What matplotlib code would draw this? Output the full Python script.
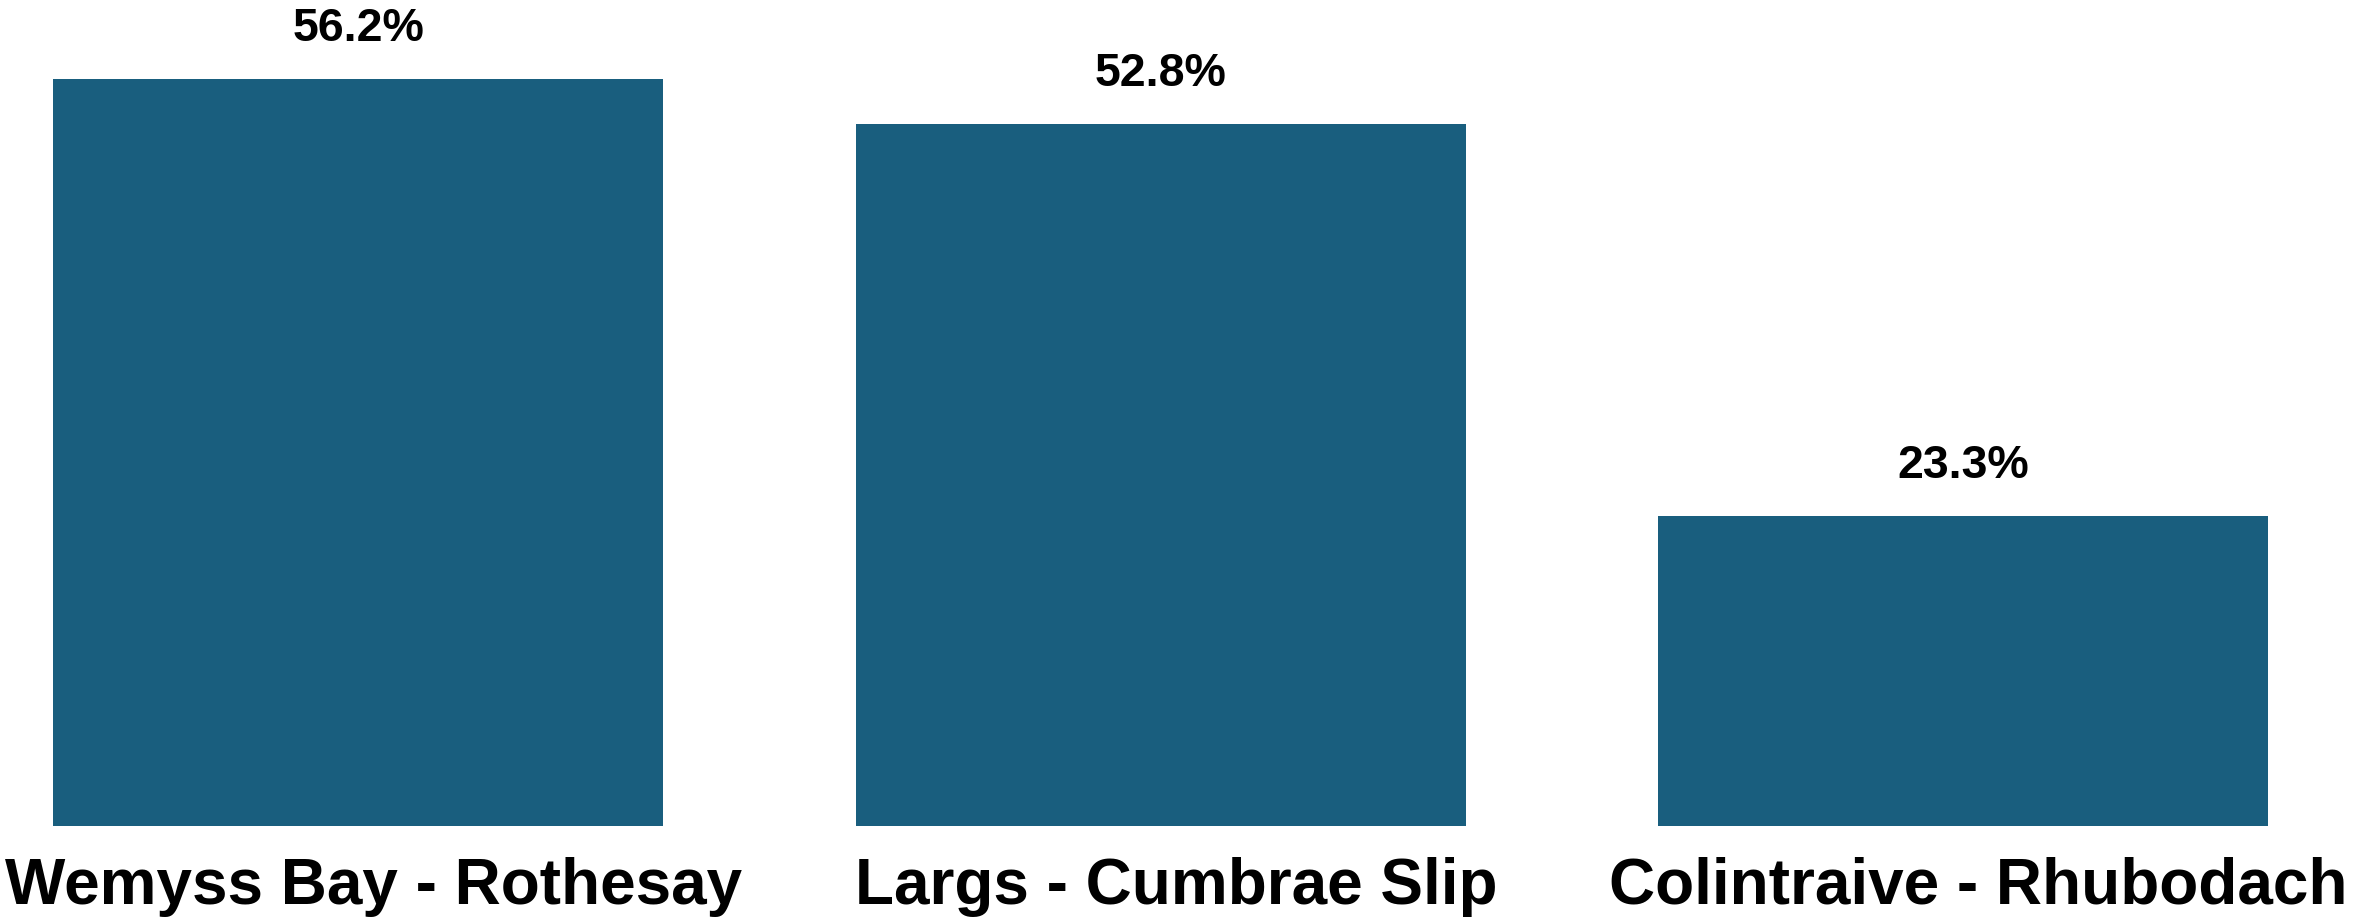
import matplotlib.pyplot as plt
from matplotlib.transforms import ScaledTranslation

# data
routes = ['Wemyss Bay - Rothesay', 'Largs - Cumbrae Slip', 'Colintraive - Rhubodach']
shares = [56.2, 52.8, 23.3]
value_labels = ['56.2%', '52.8%', '23.3%']

BAR_COLOR = '#195e7e'

plt.rcParams['font.family'] = ['Liberation Sans', 'DejaVu Sans']

fig = plt.figure(figsize=(23.56, 9.21), dpi=100)
ax = fig.add_axes([0.00225, 0.1027, 0.998, 0.8973])

x = range(len(routes))
bars = ax.bar(x, shares, width=0.76, color=BAR_COLOR)

for bar, lab in zip(bars, value_labels):
    ax.annotate(lab, (bar.get_x() + bar.get_width() / 2, bar.get_height()),
                xytext=(0, 36), textcoords='offset points',
                ha='center', va='center', fontsize=33.5, fontweight='bold')

ax.set_xticks(list(x))
ax.set_xticklabels(routes, fontsize=46, fontweight='bold')
ax.tick_params(axis='x', length=0, pad=22)
# labels sit a little right of the bar centres in the original
shift = ScaledTranslation(0.15, 0, fig.dpi_scale_trans)
for t in ax.get_xticklabels():
    t.set_transform(t.get_transform() + shift)
ax.set_yticks([])
for s in ax.spines.values():
    s.set_visible(False)

ax.set_xlim(-0.44, 2.49)
ax.set_ylim(0, 62.1)

fig.savefig('out.png', dpi=100)
